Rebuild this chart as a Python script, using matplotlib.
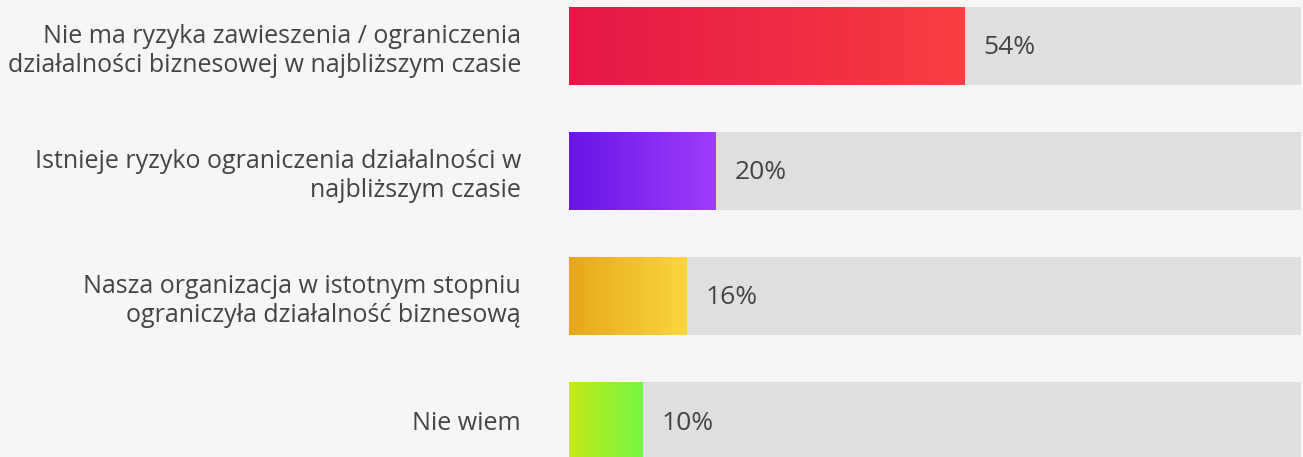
import matplotlib
matplotlib.use("Agg")
import matplotlib.pyplot as plt
import numpy as np
from matplotlib.colors import LinearSegmentedColormap

categories = [
    "Nie ma ryzyka zawieszenia / ograniczenia\ndziałalności biznesowej w najbliższym czasie",
    "Istnieje ryzyko ograniczenia działalności w\nnajbliższym czasie",
    "Nasza organizacja w istotnym stopniu\nograniczyła działalność biznesową",
    "Nie wiem",
]
values = [54, 20, 16, 10]
value_labels = ["54%", "20%", "16%", "10%"]
gradients = [
    ("#e5174a", "#f83e42"),
    ("#6815e6", "#9f3ef9"),
    ("#e6a61c", "#fad63f"),
    ("#c4e81a", "#74f842"),
]

plt.rcParams['font.family'] = ['Open Sans', 'DejaVu Sans']

W, H = 1303, 457
fig = plt.figure(figsize=(W / 100, H / 100), dpi=100)
fig.patch.set_facecolor("#f6f6f6")
ax = fig.add_axes([569 / W, 0, 732 / W, 1])
ax.set_facecolor("#f6f6f6")

pitch = 125.0
top = -46 / pitch
bottom = (H - 46) / pitch
bh = 78 / pitch

ypos = np.arange(len(values))
ax.barh(ypos, [100] * len(values), height=bh, color="#dfdfdf", zorder=1)
bars = ax.barh(ypos, values, height=bh, color="none", zorder=2)

grad = np.linspace(0, 1, 256).reshape(1, -1)
for b, (c0, c1), v, lab in zip(bars, gradients, values, value_labels):
    cmap = LinearSegmentedColormap.from_list("g", [c0, c1])
    x0, y0 = b.get_x(), b.get_y()
    w, h = b.get_width(), b.get_height()
    im = ax.imshow(grad, cmap=cmap, aspect="auto", extent=(x0, x0 + w, y0 + h, y0),
                   zorder=2, interpolation="bilinear")
    im.set_clip_path(b)
    ax.annotate(lab, xy=(v, b.get_y() + h / 2), xytext=(19, -2), textcoords="offset pixels",
                ha="left", va="center", fontsize=19, color="#444444", zorder=3)

ax.set_xlim(0, 100)
ax.set_ylim(bottom, top)
ax.set_yticks(ypos)
ax.set_yticklabels(categories, fontsize=18, color="#444444", linespacing=1.2)
ax.tick_params(axis="y", length=0, pad=48 * 0.72)
ax.set_xticks([])
for s in ax.spines.values():
    s.set_visible(False)

fig.savefig("out.png", dpi=100, facecolor=fig.get_facecolor())
